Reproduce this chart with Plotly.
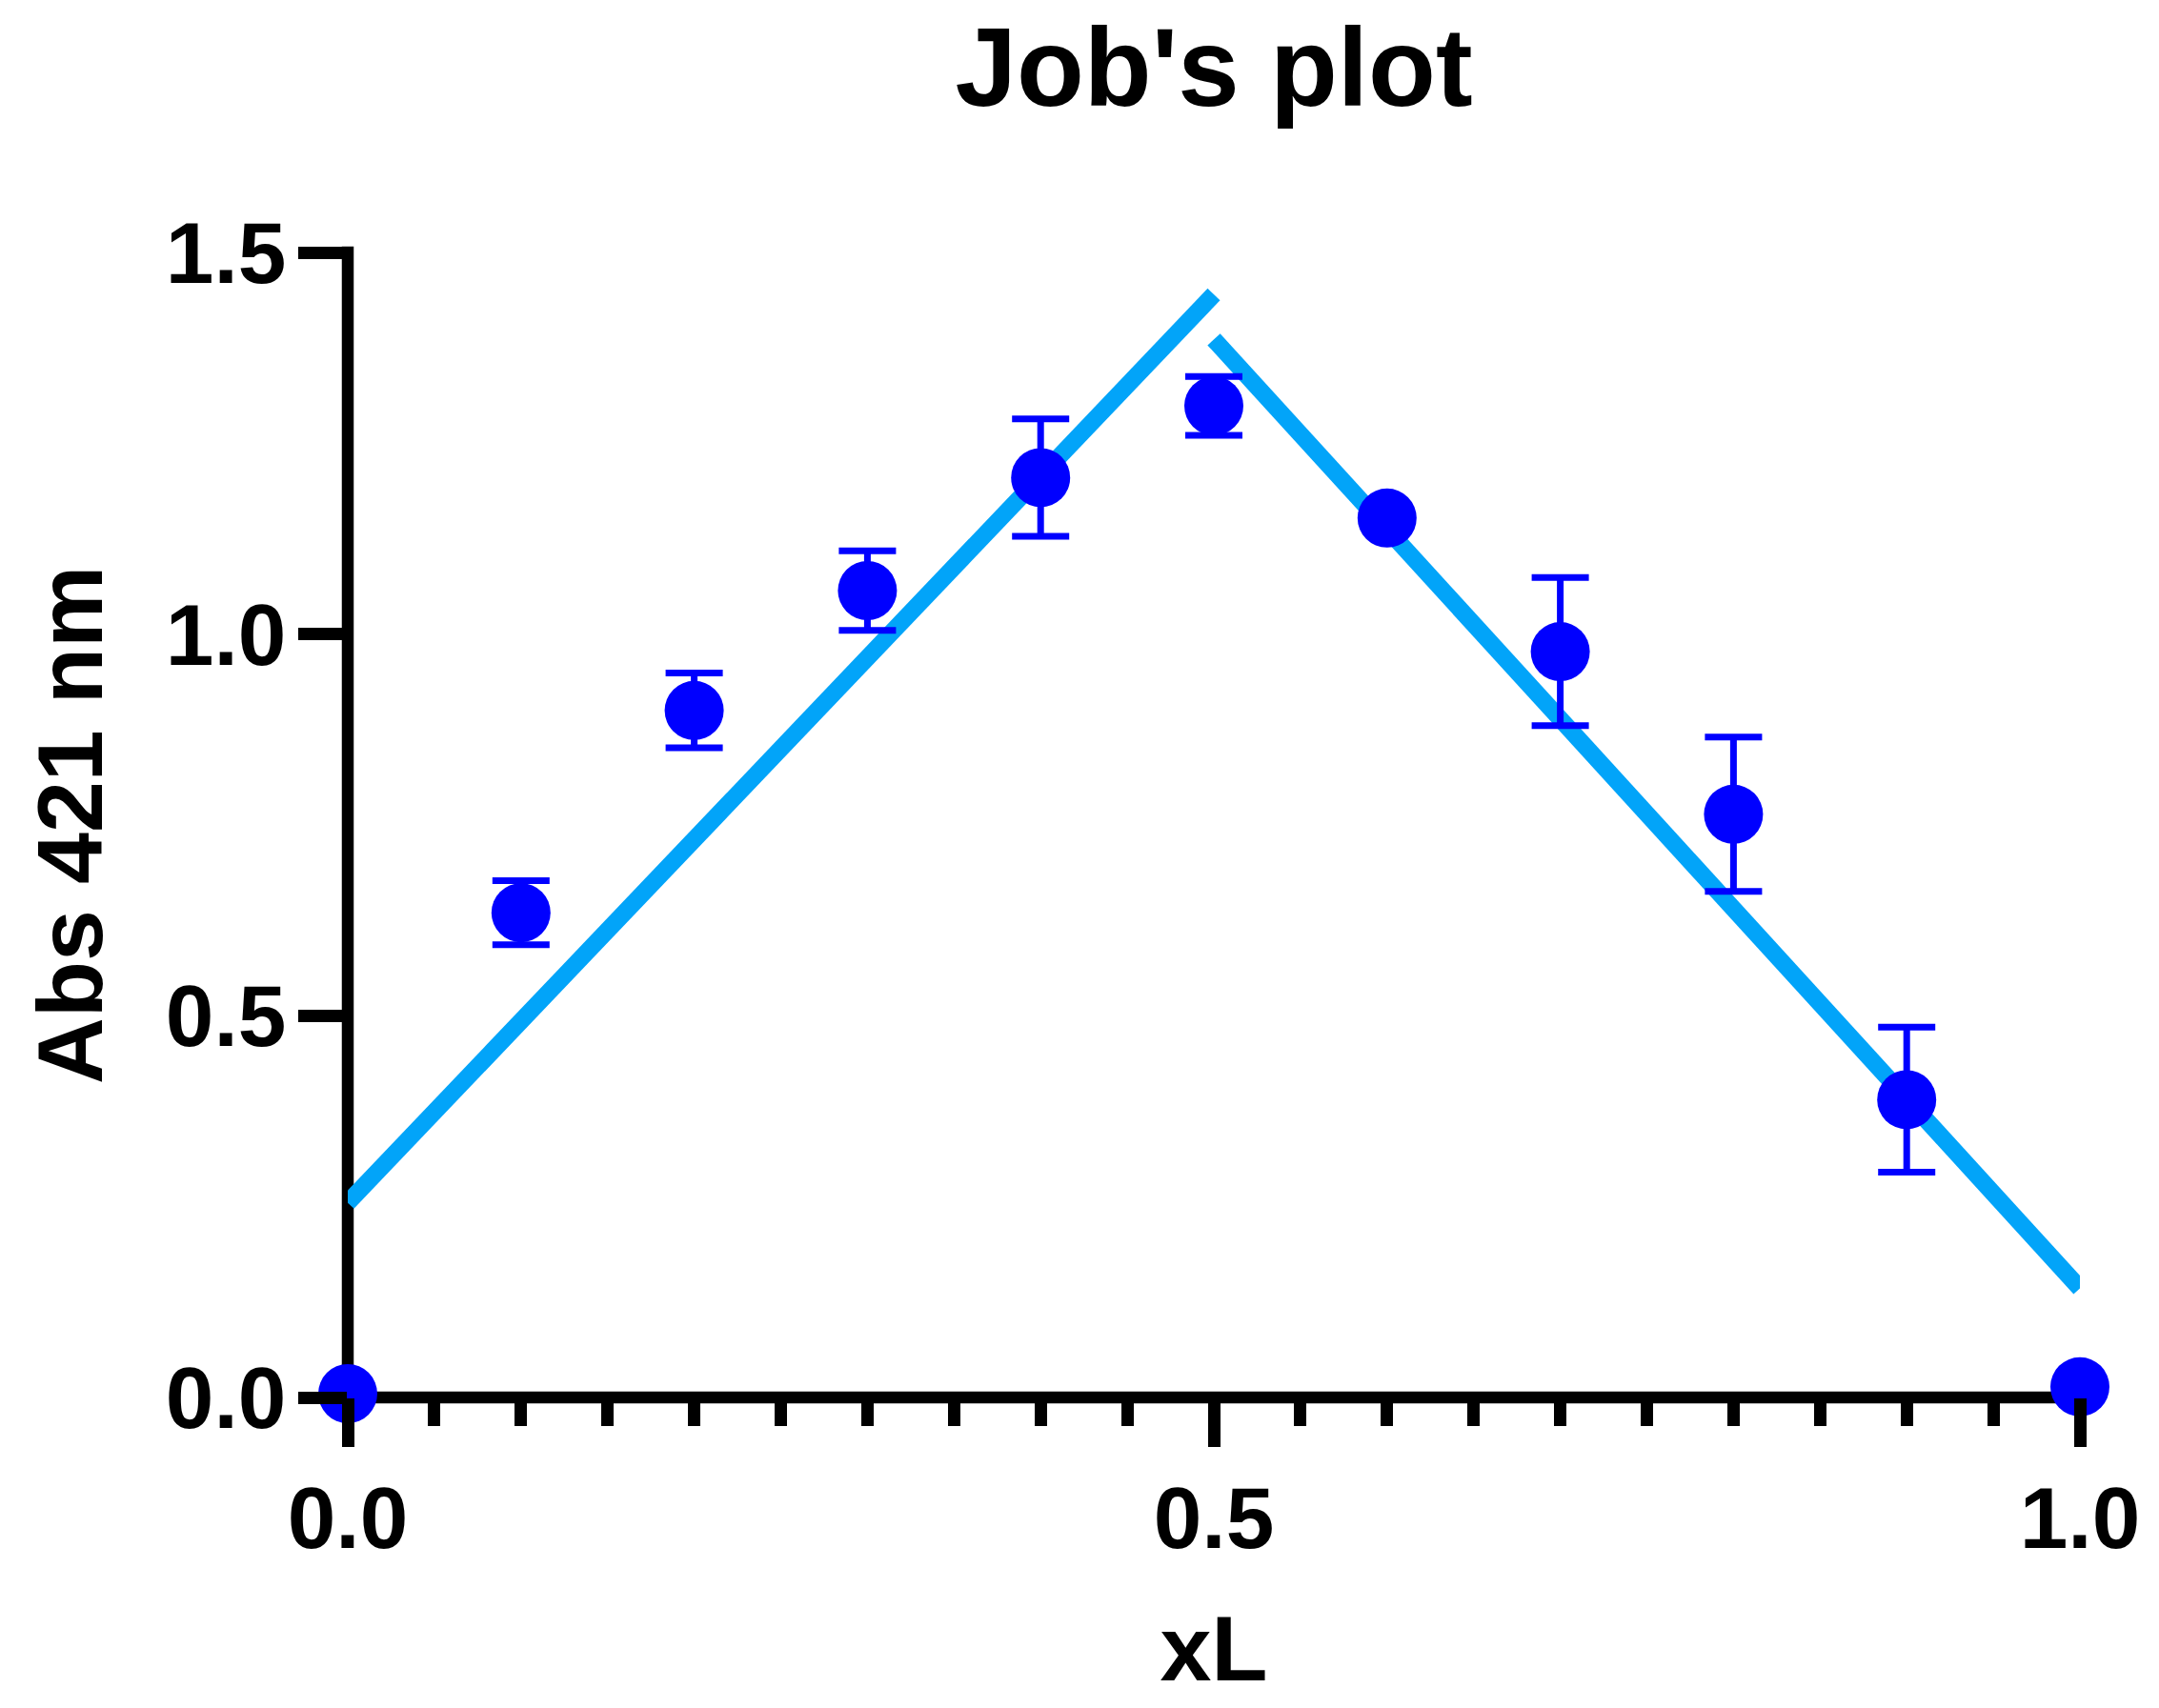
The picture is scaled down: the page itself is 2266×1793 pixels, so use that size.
import plotly.graph_objects as go

# Data
xl = [0.0, 0.1, 0.2, 0.3, 0.4, 0.5, 0.6, 0.7, 0.8, 0.9, 1.0]
absorbance = [0.005, 0.635, 0.900, 1.057, 1.205, 1.299, 1.152, 0.977, 0.764, 0.390, 0.014]
abs_err = [0.0, 0.042, 0.049, 0.052, 0.077, 0.0385, 0.0, 0.097, 0.101, 0.095, 0.0]

fit_left_x = [0.0, 0.5]
fit_left_y = [0.255, 1.445]
fit_right_x = [0.5, 1.0]
fit_right_y = [1.386, 0.143]

x_ticks = [0.0, 0.5, 1.0]
y_ticks = [0.0, 0.5, 1.0, 1.5]
x_range = [0.0, 1.0]
y_range = [0.0, 1.5]

LINE_COLOR = "#02A4F9"
PT_COLOR = "#0000FF"
FONT = "Liberation Sans, Arial, sans-serif"
AXIS_W = 12.5

fig = go.Figure()
fig.add_trace(go.Scatter(x=fit_left_x, y=fit_left_y, mode="lines",
                         line=dict(color=LINE_COLOR, width=18), cliponaxis=False,
                         showlegend=False, hoverinfo="skip"))
fig.add_trace(go.Scatter(x=fit_right_x, y=fit_right_y, mode="lines",
                         line=dict(color=LINE_COLOR, width=18), cliponaxis=False,
                         showlegend=False, hoverinfo="skip"))
fig.add_trace(go.Scatter(x=xl, y=absorbance, mode="markers",
                         marker=dict(color=PT_COLOR, size=62, line=dict(width=0)),
                         error_y=dict(type="data", array=abs_err, visible=True,
                                      color=PT_COLOR, thickness=7, width=30),
                         cliponaxis=False, showlegend=False))

# page body has an 8px margin, so the figure is 8px smaller than the window
W, H = 2258, 1785
ML, MR, MT, MB = 356.5, 83, 257, 325.5
plot_w = W - ML - MR
plot_h = H - MT - MB
# half axis-line width in paper units, so the line ends square off with the ticks
px_half = (AXIS_W / 2) / plot_w
py_half = (AXIS_W / 2) / plot_h

fig.update_layout(
    width=W, height=H,
    paper_bgcolor="white", plot_bgcolor="rgba(0,0,0,0)",
    margin=dict(l=ML, r=MR, t=MT, b=MB, pad=0),
    title=dict(text="Job's plot", x=0.5, xref="paper", xanchor="center",
               y=1 - 62.5 / H, yref="container", yanchor="middle",
               font=dict(family=FONT, size=116, color="black", weight="bold")),
    font=dict(family=FONT, color="black"),
    shapes=[
        dict(type="line", xref="paper", yref="paper", layer="below",
             x0=0, x1=1 + px_half, y0=0, y1=0,
             line=dict(color="black", width=AXIS_W)),
        dict(type="line", xref="paper", yref="paper", layer="below",
             x0=0, x1=0, y0=0, y1=1 + py_half,
             line=dict(color="black", width=AXIS_W)),
    ],
)
fig.update_xaxes(
    range=x_range, showgrid=False, zeroline=False, showline=False,
    ticks="outside", ticklen=50.5, tickwidth=AXIS_W, tickcolor="black",
    tickvals=x_ticks, tickformat=".1f", ticklabelstandoff=-3,
    tickfont=dict(family=FONT, size=91, color="black", weight="bold"),
    minor=dict(dtick=0.05, tick0=0, ticks="outside", ticklen=28.5, tickwidth=AXIS_W,
               tickcolor="black", showgrid=False),
    title=dict(text="xL", standoff=53,
               font=dict(family=FONT, size=97, color="black", weight="bold")),
)
fig.update_yaxes(
    range=y_range, showgrid=False, zeroline=False, showline=False,
    ticks="outside", ticklen=51.5, tickwidth=AXIS_W, tickcolor="black",
    tickvals=y_ticks, tickformat=".1f", ticklabelstandoff=-6,
    tickfont=dict(family=FONT, size=91, color="black", weight="bold"),
    title=dict(text="Abs 421 nm", standoff=33,
               font=dict(family=FONT, size=97, color="black", weight="bold")),
)

fig.write_html("out.html")
